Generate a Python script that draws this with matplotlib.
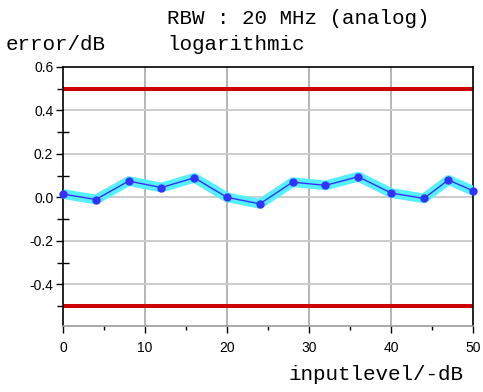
import matplotlib.pyplot as plt
from matplotlib.ticker import MultipleLocator

# inputlevel (-dB) and measured error (dB)
level = [0, 4, 8, 12, 16, 20, 24, 28, 32, 36, 40, 44, 47, 50]
error = [0.015, -0.01, 0.075, 0.045, 0.09, 0.0, -0.03, 0.07, 0.055, 0.095, 0.02, -0.005, 0.08, 0.03]
limits = [0.5, -0.5]

fig = plt.figure(figsize=(4.83, 3.92), dpi=100)
ax = fig.add_axes([63 / 483, 1 - 325.5 / 392, 410 / 483, 258.5 / 392])

ax.set_xlim(0, 50)
ax.set_ylim(-0.59, 0.6)

# grid
for x in [10, 20, 30, 40]:
    ax.axvline(x, color='#b4b4b4', lw=1.4, zorder=1)
for y in [-0.4, -0.2, 0.0, 0.2, 0.4]:
    ax.axhline(y, color='#cccccc', lw=1.4, zorder=1)

# tolerance limits
for y in limits:
    ax.axhline(y, color='#cc0000', lw=2.9, zorder=2)

# measured error
ax.plot(level, error, color='#55f0ff', lw=7, solid_capstyle='butt', zorder=3)
ax.plot(level, error, color='#3333ff', lw=1.0, marker='o', ms=5, zorder=4, clip_on=False)

ax.xaxis.set_major_locator(MultipleLocator(10))
ax.xaxis.set_minor_locator(MultipleLocator(5))
ax.set_yticks([-0.4, -0.2, 0.0, 0.2, 0.4, 0.6])
ax.set_yticklabels(['-0.4', '-0.2', '0.0', '0.2', '0.4', '0.6'])
ax.set_yticks([-0.5, -0.3, -0.1, 0.1, 0.3, 0.5], minor=True)

ax.tick_params(axis='both', which='major', direction='out', length=5, width=1,
               labelsize=10, color='black')
ax.tick_params(axis='x', which='minor', direction='out', length=3, width=1)
ax.tick_params(axis='y', which='minor', direction='inout', length=9, width=1)
ax.tick_params(axis='x', pad=6)
ax.tick_params(axis='y', pad=2)
for lab in ax.get_xticklabels() + ax.get_yticklabels():
    lab.set_family('Liberation Sans')

for s in ['left', 'top', 'right']:
    ax.spines[s].set_color('black')
    ax.spines[s].set_linewidth(1.2)
ax.spines['bottom'].set_color('#999999')
ax.spines['bottom'].set_linewidth(1.2)

mono = 'Liberation Mono'
fs = 15
fig.text(167 / 483, 1 - 19 / 392, 'RBW : 20 MHz (analog)', family=mono, fontsize=fs, va='center')
fig.text(6 / 483, 1 - 44 / 392, 'error/dB', family=mono, fontsize=fs, va='center')
fig.text(167 / 483, 1 - 44 / 392, 'logarithmic', family=mono, fontsize=fs, va='center')
fig.text(289 / 483, 1 - 375 / 392, 'inputlevel/-dB', family=mono, fontsize=fs, va='center')

fig.savefig('out.png', dpi=100)
